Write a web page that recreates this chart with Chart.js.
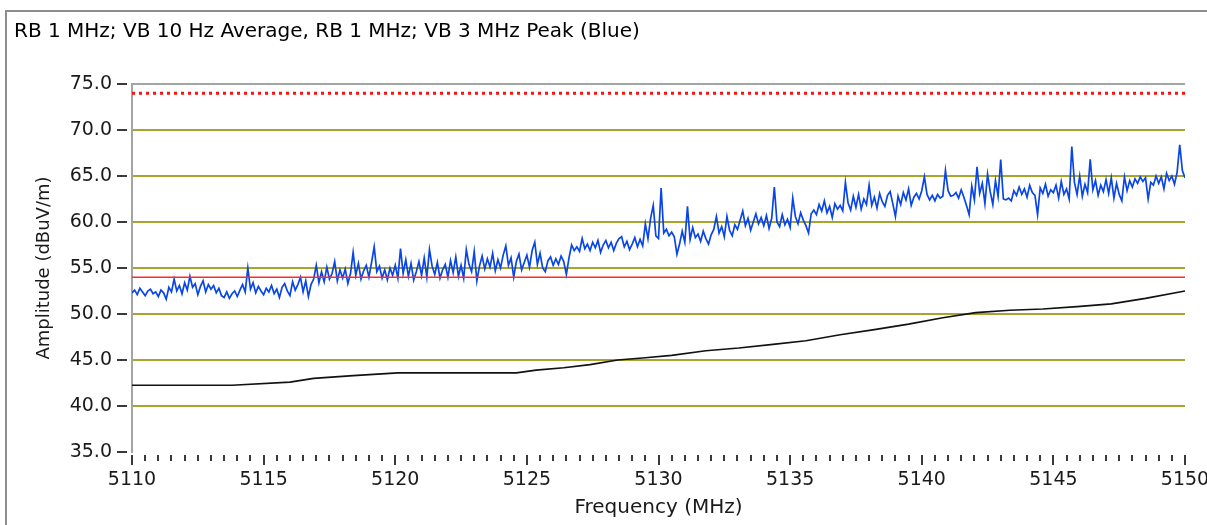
<!DOCTYPE html>
<html>
<head>
<meta charset="utf-8">
<title>RB 1 MHz sweep</title>
<script src="https://cdn.jsdelivr.net/npm/chart.js@4.4.1/dist/chart.umd.min.js"></script>
<style>
  html, body { margin: 0; padding: 0; background: #fff; }
  #wrap  { position: relative; width: 1207px; height: 525px; overflow: hidden; }
  #frame { position: absolute; left: 5px; top: 10px; width: 1300px; height: 600px;
           border-left: 2px solid #8e8e8e; border-top: 2px solid #8e8e8e; }
  #chart { position: absolute; left: 0; top: 0; }
</style>
</head>
<body>
<div id="wrap">
  <div id="frame"></div>
  <canvas id="chart" width="1207" height="525"></canvas>
</div>
<script>
/* ── Data ──────────────────────────────────────────────────────────────── */

var TITLE     = 'RB 1 MHz; VB 10 Hz Average, RB 1 MHz; VB 3 MHz Peak (Blue)';
var START_MHZ = 5110;
var END_MHZ   = 5150;
var STEP_MHZ  = 0.1;          // sweep spacing of the peak trace

// Peak detector trace (blue), one value per 0.1 MHz, 5110.0 … 5150.0
var peakTrace = [
  52.3, 52.6, 52.1, 52.8, 52.4, 52.0, 52.5, 52.7, 52.2, 52.4,
  51.9, 52.6, 52.3, 51.6, 52.9, 52.4, 53.8, 52.5, 53.1, 52.2,
  53.4, 52.6, 54.1, 52.9, 53.3, 52.1, 53.0, 53.6, 52.4, 53.2,
  52.7, 53.1, 52.3, 52.8, 52.0, 51.8, 52.4, 51.7, 52.2, 52.5,
  51.9, 52.6, 53.2, 52.4, 55.0, 52.7, 53.4, 52.3, 53.0, 52.5,
  52.1, 52.8, 52.4, 53.1, 52.2, 52.7, 51.8, 52.9, 53.3, 52.5,
  52.0, 53.5, 52.6, 53.2, 54.0, 52.4, 53.6, 51.9, 53.2, 53.8,
  55.3, 53.4, 54.6, 53.5, 55.1, 53.8, 54.4, 55.7, 53.6, 54.8,
  53.9, 54.9, 53.3, 54.4, 56.7, 54.2, 55.5, 53.8, 54.7, 55.3,
  54.0, 55.6, 57.3, 54.6, 55.2, 53.9, 54.8, 53.7, 55.0, 54.2,
  55.3, 53.9, 57.1, 54.4, 55.9, 54.1, 55.5, 53.7, 54.6, 55.7,
  54.2, 56.1, 54.0, 57.0, 55.2, 54.3, 55.6, 53.9, 54.8, 55.4,
  54.0, 55.8, 54.5, 56.2, 54.1, 55.3, 53.9, 57.0, 55.4, 54.6,
  56.8, 53.6, 55.2, 56.3, 54.9, 56.0, 55.1, 56.6, 54.7, 55.9,
  55.0, 56.4, 57.4, 55.3, 56.1, 54.0, 55.7, 56.5, 54.8, 55.6,
  56.4, 55.1, 56.9, 57.8, 55.4, 56.6, 55.0, 54.6, 55.8, 56.2,
  55.3, 56.0, 55.4, 56.3, 55.7, 54.3, 56.1, 57.5, 56.9, 57.3,
  56.8, 58.2, 57.1, 57.6, 56.9, 57.8, 57.2, 58.0, 56.7, 57.5,
  58.0, 57.2, 57.8, 56.9, 57.7, 58.2, 58.4, 57.3, 57.9, 57.0,
  57.6, 58.3, 57.3, 58.1, 57.4, 59.8, 58.2, 60.4, 61.8, 58.5,
  58.2, 63.7, 58.8, 59.2, 58.5, 58.9, 58.4, 56.5, 57.6, 59.0,
  57.8, 61.7, 58.1, 59.4, 58.3, 58.7, 57.9, 59.0, 58.2, 57.6,
  58.6, 59.2, 60.6, 58.8, 59.5, 58.4, 60.6, 59.1, 58.5, 59.7,
  59.2, 60.2, 61.2, 59.6, 60.4, 59.1, 60.0, 60.9, 59.8, 60.5,
  59.6, 60.7, 59.3, 60.4, 63.8, 60.0, 59.5, 60.8, 59.7, 60.3,
  59.4, 62.6, 60.6, 59.8, 61.0, 60.2, 59.6, 58.8, 60.9, 61.3,
  60.8, 61.9, 61.2, 62.3, 61.0, 61.7, 60.5, 62.0, 61.4, 61.8,
  61.2, 64.3, 62.1, 61.3, 62.8, 61.6, 63.0, 61.4, 62.5, 61.9,
  64.0, 61.8, 62.7, 61.5, 63.1, 62.2, 61.7, 62.9, 63.3, 62.0,
  60.6, 62.8, 61.9, 63.2, 62.4, 63.6, 61.8, 62.7, 63.1, 62.5,
  63.4, 64.9, 63.0, 62.4, 62.9, 62.3, 63.0, 62.6, 62.8, 65.6,
  63.4, 62.8, 62.9, 63.2, 62.6, 63.5, 62.7, 61.8, 60.8, 63.9,
  62.4, 66.0, 63.1, 64.2, 62.0, 65.2, 63.3, 61.9, 64.5, 62.8,
  66.8, 62.5, 62.4, 62.6, 62.3, 63.4, 62.9, 63.8, 63.0, 63.6,
  62.7, 64.0, 63.2, 62.9, 60.8, 63.7, 63.1, 64.1, 62.8, 63.5,
  63.2, 64.0, 62.6, 64.4, 63.0, 63.6, 62.5, 68.2, 64.3, 63.0,
  65.0, 62.8, 64.1, 63.2, 66.8, 63.5, 64.5, 62.9, 64.0, 63.3,
  64.6, 63.1, 64.8, 62.6, 64.2, 63.0, 62.3, 64.9, 63.4, 64.5,
  63.8, 64.7, 64.2, 64.9, 64.4, 64.8, 62.5, 64.3, 64.0, 65.0,
  64.2, 64.9, 63.6, 65.3, 64.5, 65.0, 64.1, 65.4, 68.4, 65.6,
  64.8
];

// Average detector trace (black), read at its breakpoints
var avgFreqs  = [5110, 5113.8, 5116.0, 5116.9, 5118.4, 5120.1, 5124.6, 5125.35, 5126.4,
                 5127.4, 5128.45, 5129.5, 5130.5, 5131.8, 5133.05, 5134.35, 5135.6,
                 5136.9, 5138.2, 5139.5, 5140.8, 5142.05, 5143.35, 5144.6, 5145.9,
                 5147.2, 5148.5, 5150];
var avgLevels = [42.25, 42.25, 42.6, 43.0, 43.3, 43.6, 43.6, 43.9, 44.15,
                 44.5, 45.0, 45.25, 45.5, 46.0, 46.3, 46.7, 47.1,
                 47.75, 48.3, 48.9, 49.6, 50.15, 50.4, 50.55, 50.8,
                 51.1, 51.7, 52.5];

// Limits
var peakLimit = 74.0;   // dotted red
var avgLimit  = 54.0;   // solid red

// Axis ticks
var yTicks = [35, 40, 45, 50, 55, 60, 65, 70, 75];
var xTicks = [5110, 5115, 5120, 5125, 5130, 5135, 5140, 5145, 5150];

/* ── Helpers ───────────────────────────────────────────────────────────── */

var OLIVE = '#a9a42a';

function _peakPoints() {
  return peakTrace.map(function (v, i) {
    return { x: START_MHZ + i * STEP_MHZ, y: v };
  });
}

function _pairs(xs, ys) {
  return xs.map(function (x, i) { return { x: x, y: ys[i] }; });
}

function _flat(level) {
  return [{ x: START_MHZ, y: level }, { x: END_MHZ, y: level }];
}

// draws the small tick marks that sit off the axes
var tickMarks = {
  id: 'tickMarks',
  afterDraw: function (chart) {
    var ctx = chart.ctx, xs = chart.scales.x, ys = chart.scales.y;
    ctx.save();
    ctx.strokeStyle = '#3a3a3a';
    ctx.lineWidth = 2;
    ctx.beginPath();
    yTicks.forEach(function (v) {
      var y = Math.round(ys.getPixelForValue(v));
      ctx.moveTo(ys.right - 15, y);
      ctx.lineTo(ys.right - 5, y);
    });
    for (var h = START_MHZ * 2; h <= END_MHZ * 2; h++) {
      var f = h / 2;
      var x = Math.round(xs.getPixelForValue(f));
      var major = xTicks.indexOf(f) !== -1;
      ctx.moveTo(x, xs.top + 3);
      ctx.lineTo(x, xs.top + (major ? 13 : 9));
    }
    ctx.stroke();
    ctx.restore();
  }
};

/* ── Chart ─────────────────────────────────────────────────────────────── */

Chart.defaults.font.family = '"DejaVu Sans", Verdana, sans-serif';
Chart.defaults.color = '#1a1a1a';

new Chart(document.getElementById('chart'), {
  type: 'line',
  data: {
    datasets: [
      {
        label: 'Average',
        data: _pairs(avgFreqs, avgLevels),
        borderColor: '#111111',
        borderWidth: 1.6,
        pointRadius: 0
      },
      {
        label: 'Average limit',
        data: _flat(avgLimit),
        borderColor: '#ff2a2a',
        borderWidth: 1.6,
        pointRadius: 0
      },
      {
        label: 'Peak limit',
        data: _flat(peakLimit),
        borderColor: '#ff1010',
        borderWidth: 3,
        borderDash: [3, 4],
        pointRadius: 0
      },
      {
        label: 'Peak',
        data: _peakPoints(),
        borderColor: '#0a46e6',
        borderWidth: 1.7,
        pointRadius: 0
      }
    ]
  },
  options: {
    responsive: false,
    animation: false,
    devicePixelRatio: 1,
    layout: { padding: { left: 14, right: 22, top: 0, bottom: 0 } },
    plugins: {
      legend: { display: false },
      tooltip: { enabled: false },
      title: {
        display: true,
        text: TITLE,
        align: 'start',
        color: '#000',
        font: { size: 20, weight: 'normal' },
        padding: { top: 20, bottom: 40 }
      }
    },
    scales: {
      x: {
        type: 'linear',
        min: START_MHZ,
        max: END_MHZ,
        afterBuildTicks: function (s) {
          s.ticks = xTicks.map(function (v) { return { value: v }; });
        },
        afterFit: function (s) {
          s.height = 525 - 452;
          s.paddingLeft = 0;
          s.paddingRight = 0;
        },
        ticks: {
          autoSkip: false,
          maxRotation: 0,
          padding: 17,
          font: { size: 19 },
          callback: function (v) { return String(v); }
        },
        grid: { display: false, drawTicks: false },
        border: { display: false },
        title: {
          display: true,
          text: 'Frequency (MHz)',
          font: { size: 20 },
          padding: { top: 0, bottom: 5 }
        }
      },
      y: {
        min: 35,
        max: 75,
        afterFit: function (s) { s.width = 132 - 14; },
        ticks: {
          stepSize: 2.5,
          padding: 20,
          font: { size: 19 },
          callback: function (v) { return v % 5 === 0 ? v.toFixed(1) : ''; }
        },
        grid: {
          drawTicks: false,
          color: function (c) {
            var v = c.tick && c.tick.value;
            if (v === 75) return '#a4a4a4';
            if (v === 35) return 'rgba(0,0,0,0)';
            return v % 5 === 0 ? OLIVE : '#f0f0f0';
          },
          lineWidth: 2
        },
        border: { display: true, color: '#a4a4a4', width: 2 },
        title: {
          display: true,
          text: 'Amplitude (dBuV/m)',
          font: { size: 18 },
          padding: { top: 20, bottom: 0 }
        }
      }
    }
  },
  plugins: [tickMarks]
});
</script>
</body>
</html>
